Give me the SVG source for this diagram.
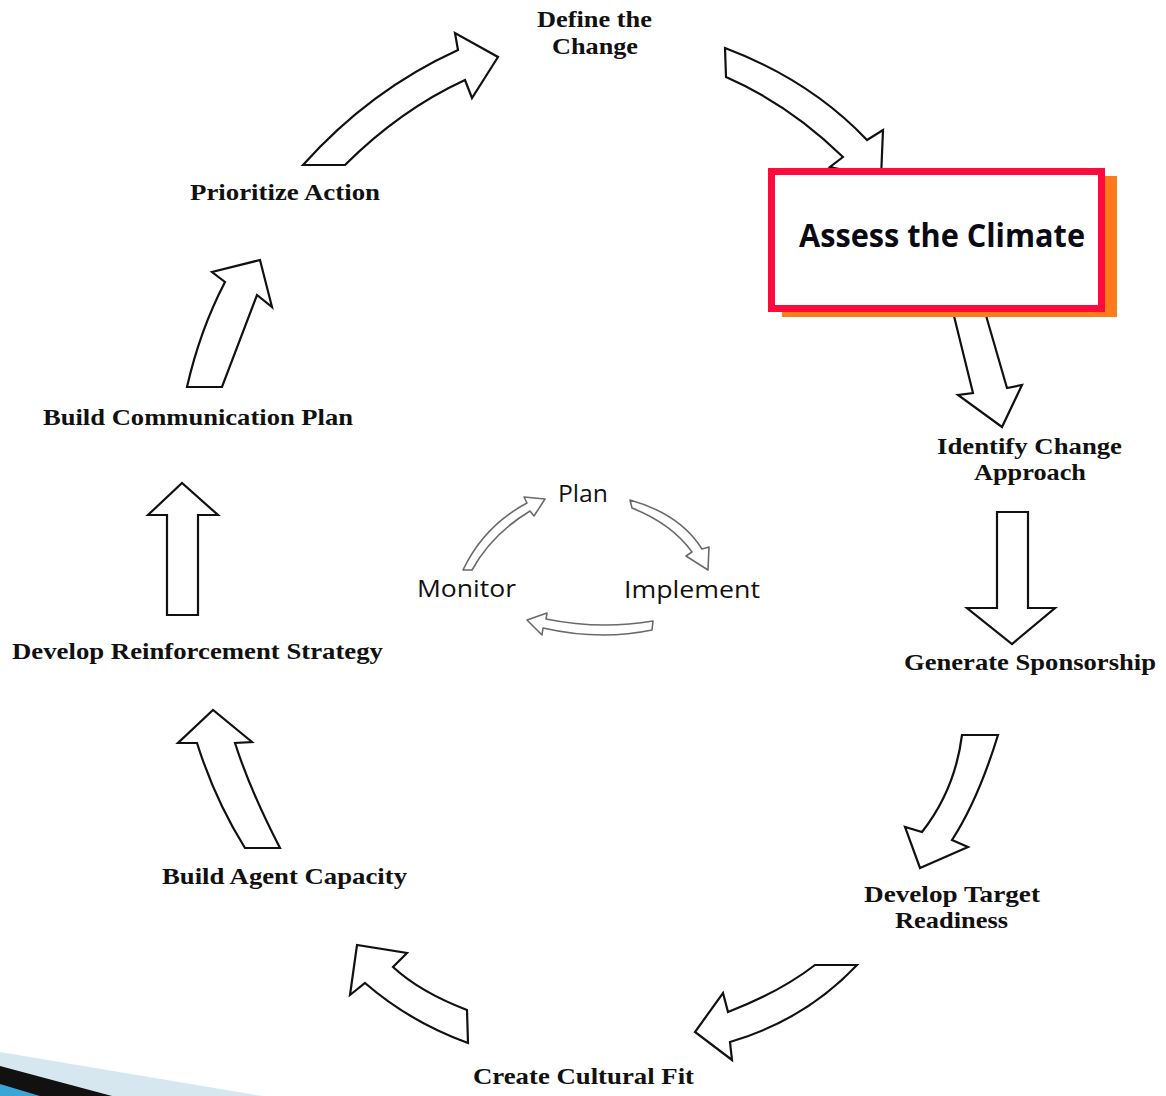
<svg xmlns="http://www.w3.org/2000/svg" width="1166" height="1096" viewBox="0 0 1166 1096">
<style>
.lbl{font-family:"Liberation Serif","Times New Roman",serif;font-weight:bold;font-size:23px;fill:#111}
.arr{fill:#fff;stroke:#111;stroke-width:2.2;stroke-linejoin:miter}
.sarr{fill:#fff;stroke:#6a6a6a;stroke-width:1.6;stroke-linejoin:round}
.in{font-family:"Open Sans","DejaVu Sans",sans-serif;font-size:23px;fill:#111}
</style>
<rect width="1166" height="1096" fill="#fff"/>
<g id="decor">
<polygon points="0,1052 262,1096 0,1096" fill="#d6e7f0"/>
<polygon points="0,1066 112,1096 0,1096" fill="#111"/>
<polygon points="0,1084 40,1096 0,1096" fill="#3aa6d6"/>
</g>
<g id="connectors">
<path class="arr" d="M303,165 Q370,90 458,50 L455,33 L498,57 L472,98 L465,80 Q400,110 345,165 Z"/>
<path class="arr" d="M725,48 Q810,80 867,140 L883,130 L881,178 L830,167 L843,157 Q790,105 726,77 Z"/>
<path class="arr" d="M953,312 L973,393 L958,395 L1002,427 L1022,385 L1007,388 L985,312 Z"/>
<path class="arr" d="M997,512 L1028,512 L1028,608 L1055,608 L1012,644 L967,608 L997,608 Z"/>
<path class="arr" d="M962,735 L998,735 Q978,800 952,840 L968,847 L920,868 L905,827 L922,832 Q955,790 962,735 Z"/>
<path class="arr" d="M857,965 L815,965 Q780,992 728,1012 L723,993 L695,1032 L732,1060 L730,1042 Q805,1020 857,965 Z"/>
<path class="arr" d="M468,1043 L467,1010 Q420,992 393,967 L407,953 L357,945 L350,995 L365,983 Q410,1022 468,1043 Z"/>
<path class="arr" d="M245,848 L280,848 Q250,790 235,743 L252,742 L213,710 L178,743 L197,743 Q215,800 245,848 Z"/>
<path class="arr" d="M167,615 L198,615 L198,515 L218,515 L182,483 L148,515 L167,515 Z"/>
<path class="arr" d="M187,387 L222,387 Q240,340 257,295 L272,307 L260,260 L212,272 L225,282 Q200,330 187,387 Z"/>
<path class="sarr" d="M463,570 L472,570 Q492,534 530,511 L534,516 L545,499 L524,497 L527,503 Q484,526 463,570 Z"/>
<path class="sarr" d="M630,500 L632,508 Q672,524 692,552 L686,556 L708,570 L709,547 L702,549 Q680,514 630,500 Z"/>
<path class="sarr" d="M653,621 Q600,630 546,619 L547,613 L527,620 L542,635 L543,628 Q600,641 652,630 Z"/>
</g>
<g id="assess">
<rect x="782" y="176" width="335" height="141" fill="#ff7a1a"/>
<rect x="771.5" y="171.5" width="330" height="137" fill="#fff" stroke="#ff0a3c" stroke-width="7"/>
<text x="942" y="247" text-anchor="middle" font-family="Open Sans,DejaVu Sans,sans-serif" font-weight="bold" font-size="32" fill="#0a0a14" textLength="286" lengthAdjust="spacingAndGlyphs">Assess the Climate</text>
</g>
<g id="define"><text class="lbl" x="594.5" y="27" text-anchor="middle" textLength="115" lengthAdjust="spacingAndGlyphs">Define the</text><text class="lbl" x="595" y="54" text-anchor="middle" textLength="86" lengthAdjust="spacingAndGlyphs">Change</text></g>
<g id="prioritize"><text class="lbl" x="285" y="200" text-anchor="middle" textLength="190" lengthAdjust="spacingAndGlyphs">Prioritize Action</text></g>
<g id="comm"><text class="lbl" x="198" y="425" text-anchor="middle" textLength="310" lengthAdjust="spacingAndGlyphs">Build Communication Plan</text></g>
<g id="reinforce"><text class="lbl" x="197.5" y="659" text-anchor="middle" textLength="371" lengthAdjust="spacingAndGlyphs">Develop Reinforcement Strategy</text></g>
<g id="agent"><text class="lbl" x="284.5" y="884" text-anchor="middle" textLength="245" lengthAdjust="spacingAndGlyphs">Build Agent Capacity</text></g>
<g id="cultural"><text class="lbl" x="583.5" y="1084" text-anchor="middle" textLength="221" lengthAdjust="spacingAndGlyphs">Create Cultural Fit</text></g>
<g id="target"><text class="lbl" x="952" y="902" text-anchor="middle" textLength="176" lengthAdjust="spacingAndGlyphs">Develop Target</text><text class="lbl" x="951.5" y="928" text-anchor="middle" textLength="113" lengthAdjust="spacingAndGlyphs">Readiness</text></g>
<g id="sponsor"><text class="lbl" x="1030" y="670" text-anchor="middle" textLength="252" lengthAdjust="spacingAndGlyphs">Generate Sponsorship</text></g>
<g id="identify"><text class="lbl" x="1029.5" y="454" text-anchor="middle" textLength="185" lengthAdjust="spacingAndGlyphs">Identify Change</text><text class="lbl" x="1030" y="480" text-anchor="middle" textLength="112" lengthAdjust="spacingAndGlyphs">Approach</text></g>
<g id="plan"><text class="in" x="583" y="502" text-anchor="middle" textLength="50" lengthAdjust="spacingAndGlyphs">Plan</text></g>
<g id="monitor"><text class="in" x="466.5" y="597" text-anchor="middle" textLength="99" lengthAdjust="spacingAndGlyphs">Monitor</text></g>
<g id="implement"><text class="in" x="692" y="598" text-anchor="middle" textLength="136" lengthAdjust="spacingAndGlyphs">Implement</text></g>
</svg>
